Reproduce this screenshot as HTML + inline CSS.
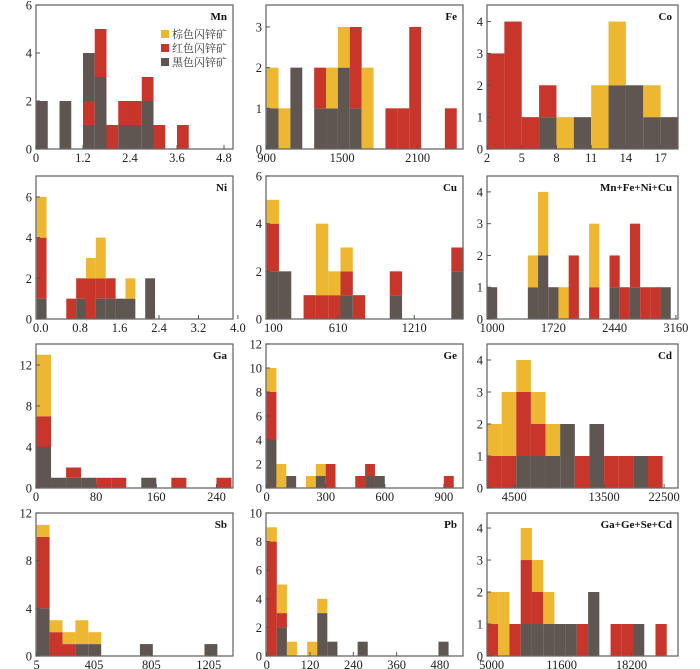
<!DOCTYPE html>
<html><head><meta charset="utf-8"><style>
html,body{margin:0;padding:0;background:#fff;}
svg{display:block;font-family:"Liberation Serif","Noto Serif CJK SC",serif;}
</style></head><body>
<svg id="chart" width="700" height="669" viewBox="0 0 700 669" xmlns="http://www.w3.org/2000/svg"></svg>
<script>
// ---- data (bins = bin index, stacks = segments bottom-up: g=黑色, r=红色, y=棕色) ----
const mnBins = [0,2,4,5,6,7,8,9,10,12];
const mnStacks = ["g2","g2","g1r1g2","g3r2","r1","g1r1","g1r1","g2r1","r1","r1"];
const mnXTicks = [0,1.2,2.4,3.6,4.8];
const mnYTicks = [0,2,4,6];

const feBins = [0,1,2,4,5,6,7,8,10,11,12,15];
const feStacks = ["g1y1","y1","g2","g1r1","g1y1","g2y1","g1r2","y2","r1","r1","r3","r1"];
const feXTicks = [900,1500,2100];
const feYTicks = [0,1,2,3];

const coBins = [0,1,2,3,4,5,6,7,8,9,10];
const coStacks = ["r3","r4","r1","g1r1","y1","g1","y2","g2y2","g2","g1y1","g1"];
const coXTicks = [2,5,8,11,14,17];
const coYTicks = [0,1,2,3,4];

const niBins = [0,3,4,5,6,7,8,9,11];
const niStacks = ["g1r3y2","r1","g1r1","r2y1","g1r1y2","g1r1","g1","g1y1","g2"];
const niXTicks = [0,0.8,1.6,2.4,3.2,4.0];
const niXLabels = ["0.0","0.8","1.6","2.4","3.2","4.0"];
const niYTicks = [0,2,4,6];

const cuBins = [0,1,3,4,5,6,7,10,15];
const cuStacks = ["g2r2y1","g2","r1","r1y3","r1y1","g1r1y1","r1","g1r1","g2r1"];
const cuXTicks = [100,610,1210];
const cuYTicks = [0,2,4,6];

const sumBins = [0,4,5,6,7,8,10,12,13,14,15,16,17];
const sumStacks = ["g1","g1y1","g2y2","g1","y1","r2","r1y2","g1r1","r1","g1r2","r1","r1","g1"];
const sumXTicks = [1000,1720,2440,3160];
const sumYTicks = [0,1,2,3,4];

const gaBins = [0,1,2,3,4,5,7,9,12];
const gaStacks = ["g4r3y6","g1","g1r1","g1","r1","r1","g1","r1","r1"];
const gaXTicks = [0,80,160,240];
const gaYTicks = [0,4,8,12];

const geBins = [0,1,2,4,5,6,9,10,11,18];
const geStacks = ["g4r4y2","y2","g1","y1","g1y1","r2","r1","g1r1","g1","r1"];
const geXTicks = [0,300,600,900];
const geYTicks = [0,2,4,6,8,10,12];

const cdBins = [0,1,2,3,4,5,6,7,8,9,10,11];
const cdStacks = ["r1y1","r1y2","g1r2y1","g1r1y1","g1y1","g2","r1","g2","r1","r1","g1","r1"];
const cdXTicks = [1.86,8,12.1];
const cdXLabels = ["4500","13500","22500"];
const cdYTicks = [0,1,2,3,4];

const sbBins = [0,1,2,3,4,8,13];
const sbStacks = ["g4r6y1","r2y1","r1y1","g1y2","g1y1","g1","g1"];
const sbXTicks = [5,405,805,1205];
const sbYTicks = [0,4,8,12];

const pbBins = [0,1,2,4,5,6,9,17];
const pbStacks = ["r8y1","g2r1y2","y1","y1","g3y1","g1","g1","g1"];
const pbXTicks = [0,120,240,360,480];
const pbYTicks = [0,2,4,6,8,10];

const ggBins = [0,1,2,3,4,5,6,7,8,9,11,12,13,15];
const ggStacks = ["r1y1","y2","r1","g1r2y1","g1r1y1","g1y1","g1","g1","r1","g2","r1","r1","g1","r1"];
const ggXTicks = [5000,11600,18200];
const ggYTicks = [0,1,2,3,4];

const legendLabels = ["棕色闪锌矿","红色闪锌矿","黑色闪锌矿"];

const COLORS = {y:"#EDB731", r:"#C8352B", g:"#5F5651"};
const NS = "http://www.w3.org/2000/svg";
const svg = document.getElementById("chart");
function mk(tag, attrs, parent){const e=document.createElementNS(NS,tag);for(const k in attrs)e.setAttribute(k,attrs[k]);(parent||svg).appendChild(e);return e;}

const cols = [[36,233],[266,463],[487,678]];
const rows = [[5,149],[176,319],[344,488],[513,656]];

const panels = [
 {id:"mn",title:"Mn",c:0,r:0,bins:mnBins,stacks:mnStacks,start:0,w:0.3,xd:[0,5.03],ymax:6,xt:mnXTicks,yt:mnYTicks},
 {id:"fe",title:"Fe",c:1,r:0,bins:feBins,stacks:feStacks,start:900,w:94.4,xd:[895,2460],ymax:3.54,xt:feXTicks,yt:feYTicks},
 {id:"co",title:"Co",c:2,r:0,bins:coBins,stacks:coStacks,start:2,w:1.5,xd:[2,18.5],ymax:4.52,xt:coXTicks,yt:coYTicks},
 {id:"ni",title:"Ni",c:0,r:1,bins:niBins,stacks:niStacks,start:-0.08,w:0.2,xd:[-0.094,3.9],ymax:7.03,xt:niXTicks,xl:niXLabels,yt:niYTicks},
 {id:"cu",title:"Cu",c:1,r:1,bins:cuBins,stacks:cuStacks,start:47,w:97,xd:[42,1594],ymax:6,xt:cuXTicks,yt:cuYTicks},
 {id:"mn-fe-ni-cu",title:"Mn+Fe+Ni+Cu",c:2,r:1,bins:sumBins,stacks:sumStacks,start:940,w:120,xd:[940,3185],ymax:4.5,xt:sumXTicks,yt:sumYTicks},
 {id:"ga",title:"Ga",c:0,r:2,bins:gaBins,stacks:gaStacks,start:0,w:20,xd:[0,262],ymax:14.05,xt:gaXTicks,yt:gaYTicks},
 {id:"ge",title:"Ge",c:1,r:2,bins:geBins,stacks:geStacks,start:0,w:50,xd:[-3,997],ymax:12,xt:geXTicks,yt:geYTicks},
 {id:"cd",title:"Cd",c:2,r:2,bins:cdBins,stacks:cdStacks,start:0,w:1,xd:[0,13.05],ymax:4.5,xt:cdXTicks,xl:cdXLabels,yt:cdYTicks},
 {id:"sb",title:"Sb",c:0,r:3,bins:sbBins,stacks:sbStacks,start:5,w:90,xd:[0.4,1374],ymax:12,xt:sbXTicks,yt:sbYTicks},
 {id:"pb",title:"Pb",c:1,r:3,bins:pbBins,stacks:pbStacks,start:0,w:28,xd:[-2,544],ymax:10,xt:pbXTicks,yt:pbYTicks},
 {id:"ga-ge-se-cd",title:"Ga+Ge+Se+Cd",c:2,r:3,bins:ggBins,stacks:ggStacks,start:4560,w:1060,xd:[4560,22584],ymax:4.47,xt:ggXTicks,yt:ggYTicks}
];

function parseStack(s){const out=[];const re=/([gry])(\d+)/g;let m;while((m=re.exec(s)))out.push([m[1],+m[2]]);return out;}

panels.forEach(p=>{
  const L=cols[p.c][0],R=cols[p.c][1],T=rows[p.r][0],B=rows[p.r][1];
  const g=mk("g",{});
  
  
  const x=v=>L+(v-p.xd[0])/(p.xd[1]-p.xd[0])*(R-L);
  const y=v=>B-v/p.ymax*(B-T);
  // bars
  p.bins.forEach((bi,i)=>{
    const x0=x(p.start+bi*p.w), x1=x(p.start+(bi+1)*p.w);
    let acc=0;
    parseStack(p.stacks[i]).forEach(([c,n])=>{
      const rc=mk("rect",{x:x0,y:y(acc+n),width:Math.max(0,x1-x0),height:y(acc)-y(acc+n),fill:COLORS[c]},g);
      
      
      acc+=n;
    });
  });
  // frame
  const fr=mk("rect",{x:L,y:T,width:R-L,height:B-T,fill:"none",stroke:"#6a6a6a","stroke-width":1.3},g);
  
  
  // y ticks
  p.yt.forEach(v=>{
    const yy=y(v);
    mk("line",{x1:L,x2:L+4,y1:yy,y2:yy,stroke:"#555","stroke-width":1},g);
    const t=mk("text",{x:L-4,y:yy+4.5,"text-anchor":"end","font-size":12.5,fill:"#222"},g);
    t.textContent=String(v);
    
    
  });
  // x ticks
  p.xt.forEach((v,i)=>{
    const xx=x(v);
    mk("line",{x1:xx,x2:xx,y1:B,y2:B-4,stroke:"#555","stroke-width":1},g);
    const t=mk("text",{x:xx,y:B+13,"text-anchor":"middle","font-size":12.5,fill:"#222"},g);
    t.textContent=p.xl?p.xl[i]:String(v);
    
    
  });
  const tt=mk("text",{x:R-6,y:T+15,"text-anchor":"end","font-size":11,"font-weight":"bold",fill:"#111"},g);
  tt.textContent=p.title;
  
  
});

// legend in Mn panel
const legKeys=["y","r","g"];
const lg=mk("g",{});


legendLabels.forEach((lab,i)=>{
  const yy=30+i*14;
  const s=mk("rect",{x:161,y:yy,width:8,height:8,fill:COLORS[legKeys[i]]},lg);
  
  
  const t=mk("text",{x:172,y:yy+8,"font-size":11,fill:"#333","font-family":"\"Liberation Serif\",\"Noto Serif CJK SC\",serif"},lg);
  t.textContent=lab;
  
  
});
</script>
</body></html>
